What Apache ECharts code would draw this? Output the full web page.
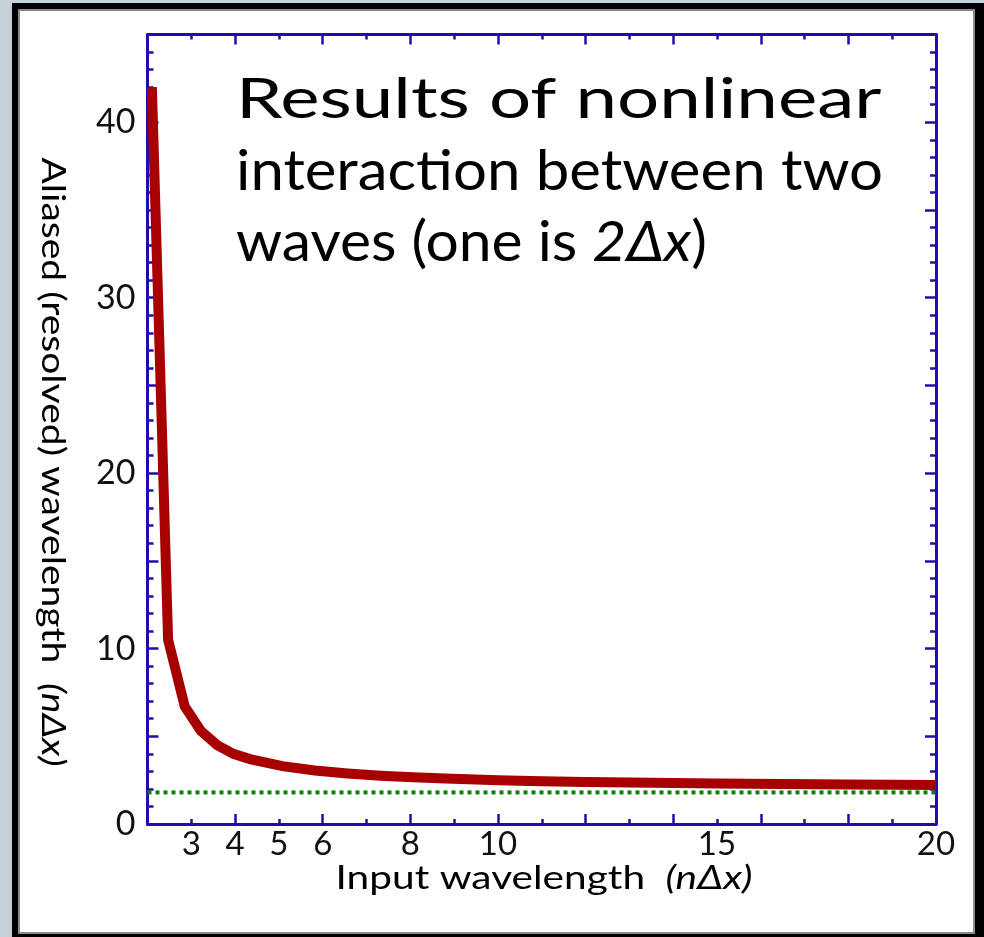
<!DOCTYPE html>
<html>
<head>
<meta charset="utf-8">
<script src="https://cdn.jsdelivr.net/npm/echarts@6/dist/echarts.min.js"></script>
<style>
  html, body { margin: 0; padding: 0; width: 984px; height: 937px; overflow: hidden; background: #c6d1d8; }
  #outer { position: absolute; left: 12px; top: 3px; width: 972px; height: 934px; background: #000; }
  #inner { position: absolute; left: 18px; top: 9px; width: 957px; height: 925px; background: #fff; border: 2px solid #8a8a8a; box-sizing: border-box; }
  #chart { position: absolute; left: 0; top: 0; width: 984px; height: 937px; }
</style>
</head>
<body>
<div id="outer"></div>
<div id="inner"></div>
<div id="chart"></div>
<script>
// Input wavelength (n Δx) and aliased (resolved) wavelength
const inputWavelength = [2.1, 2.47, 2.85, 3.22, 3.59, 3.96, 4.34, 4.71, 5.08, 5.82, 6.57, 7.32, 8.06, 8.8, 10, 11, 12, 13.5, 15, 16.5, 18, 20];
const aliasedWavelength = [42, 10.5, 6.7, 5.3, 4.5, 4.0, 3.7, 3.5, 3.3, 3.05, 2.88, 2.75, 2.66, 2.59, 2.5, 2.44, 2.4, 2.35, 2.31, 2.28, 2.25, 2.22];
// dotted reference level
const refX = [2, 20];
const refY = [1.8, 1.8];
// tick labels
const xTickLabels = [3, 4, 5, 6, 8, 10, 15, 20];
const yTickLabels = [0, 10, 20, 30, 40];
const titleLines = ['Results of nonlinear', 'interaction between two', 'waves (one is ', '2Δx', ')'];
const xAxisTitle = ['Input wavelength', '(nΔx)'];
const yAxisTitle = ['Aliased (resolved) wavelength', '(nΔx)'];

const AX = '#1f0db0';
const FONT = 'Lato';
const chart = echarts.init(document.getElementById('chart'), null, { renderer: 'canvas' });

function xAxisCfg(pos, labels) {
  return {
    type: 'value', position: pos, min: 2, max: 20, interval: 2,
    axisLine: { show: true, onZero: false, lineStyle: { color: AX, width: 3 } },
    axisTick: { show: true, inside: true, length: 10, lineStyle: { color: AX, width: 2.5 } },
    minorTick: { show: true, splitNumber: 2, length: 5, lineStyle: { color: AX, width: 2.5 } },
    splitLine: { show: false }, minorSplitLine: { show: false },
    axisLabel: labels ? { show: true, customValues: xTickLabels, margin: 4, color: '#111', fontFamily: FONT, fontSize: 33 } : { show: false }
  };
}
function yAxisCfg(pos, labels) {
  return {
    type: 'value', position: pos, min: 0, max: 45, interval: 5,
    axisLine: { show: true, onZero: false, lineStyle: { color: AX, width: 3 } },
    axisTick: { show: true, inside: true, length: 11, lineStyle: { color: AX, width: 2.5 } },
    minorTick: { show: true, splitNumber: 5, length: 6, lineStyle: { color: AX, width: 2.5 } },
    splitLine: { show: false }, minorSplitLine: { show: false },
    axisLabel: labels ? { show: true, customValues: yTickLabels, margin: 12, color: '#111', fontFamily: FONT, fontSize: 34 } : { show: false }
  };
}

const titleStyle = { fontFamily: FONT, fontSize: 56, fill: '#000', align: 'left', verticalAlign: 'middle' };
const axisTitleRich = {
  n: { fontFamily: FONT, fontSize: 32, color: '#111' },
  i: { fontFamily: FONT, fontSize: 32, fontStyle: 'italic', color: '#111', padding: [0, 0, 0, 16] }
};

const option = {
  animation: false,
  backgroundColor: 'transparent',
  grid: { left: 147.5, top: 34.5, width: 788.5, height: 789.5, containLabel: false },
  xAxis: [xAxisCfg('bottom', true), xAxisCfg('top', false)],
  yAxis: [yAxisCfg('left', true), yAxisCfg('right', false)],
  series: [
    {
      type: 'line', xAxisIndex: 0, yAxisIndex: 0, showSymbol: false, symbol: 'none', z: 3,
      data: refX.map((x, i) => [x, refY[i]]),
      lineStyle: { color: '#0a800a', width: 4, type: [4, 4] }
    },
    {
      type: 'line', xAxisIndex: 0, yAxisIndex: 0, showSymbol: false, symbol: 'none', z: 4,
      data: inputWavelength.map((x, i) => [x, aliasedWavelength[i]]),
      lineStyle: { color: '#a80000', width: 10, join: 'miter', cap: 'butt' }
    }
  ],
  graphic: [
    { type: 'text', x: 236, y: 100, scaleX: 1.33, style: Object.assign({ text: titleLines[0] }, titleStyle) },
    { type: 'text', x: 236, y: 172, scaleX: 1.07, style: Object.assign({ text: titleLines[1] }, titleStyle) },
    { type: 'text', x: 236, y: 243, scaleX: 1.05, style: {
        text: '{n|' + titleLines[2] + '}{i|' + titleLines[3] + '}{n|' + titleLines[4] + '}',
        align: 'left', verticalAlign: 'middle',
        rich: {
          n: { fontFamily: FONT, fontSize: 56, color: '#000' },
          i: { fontFamily: FONT, fontSize: 56, fontStyle: 'italic', color: '#000' }
        }
    } },
    { type: 'text', x: 544, y: 879, scaleX: 1.27, style: {
        text: '{n|' + xAxisTitle[0] + '}{i|' + xAxisTitle[1] + '}',
        align: 'center', verticalAlign: 'middle', rich: axisTitleRich
    } },
    { type: 'text', x: 52, y: 462, rotation: -Math.PI / 2, scaleX: 1.22, style: {
        text: '{n|' + yAxisTitle[0] + '}{i|' + yAxisTitle[1] + '}',
        align: 'center', verticalAlign: 'middle', rich: axisTitleRich
    } }
  ]
};
chart.setOption(option);
</script>
</body>
</html>
